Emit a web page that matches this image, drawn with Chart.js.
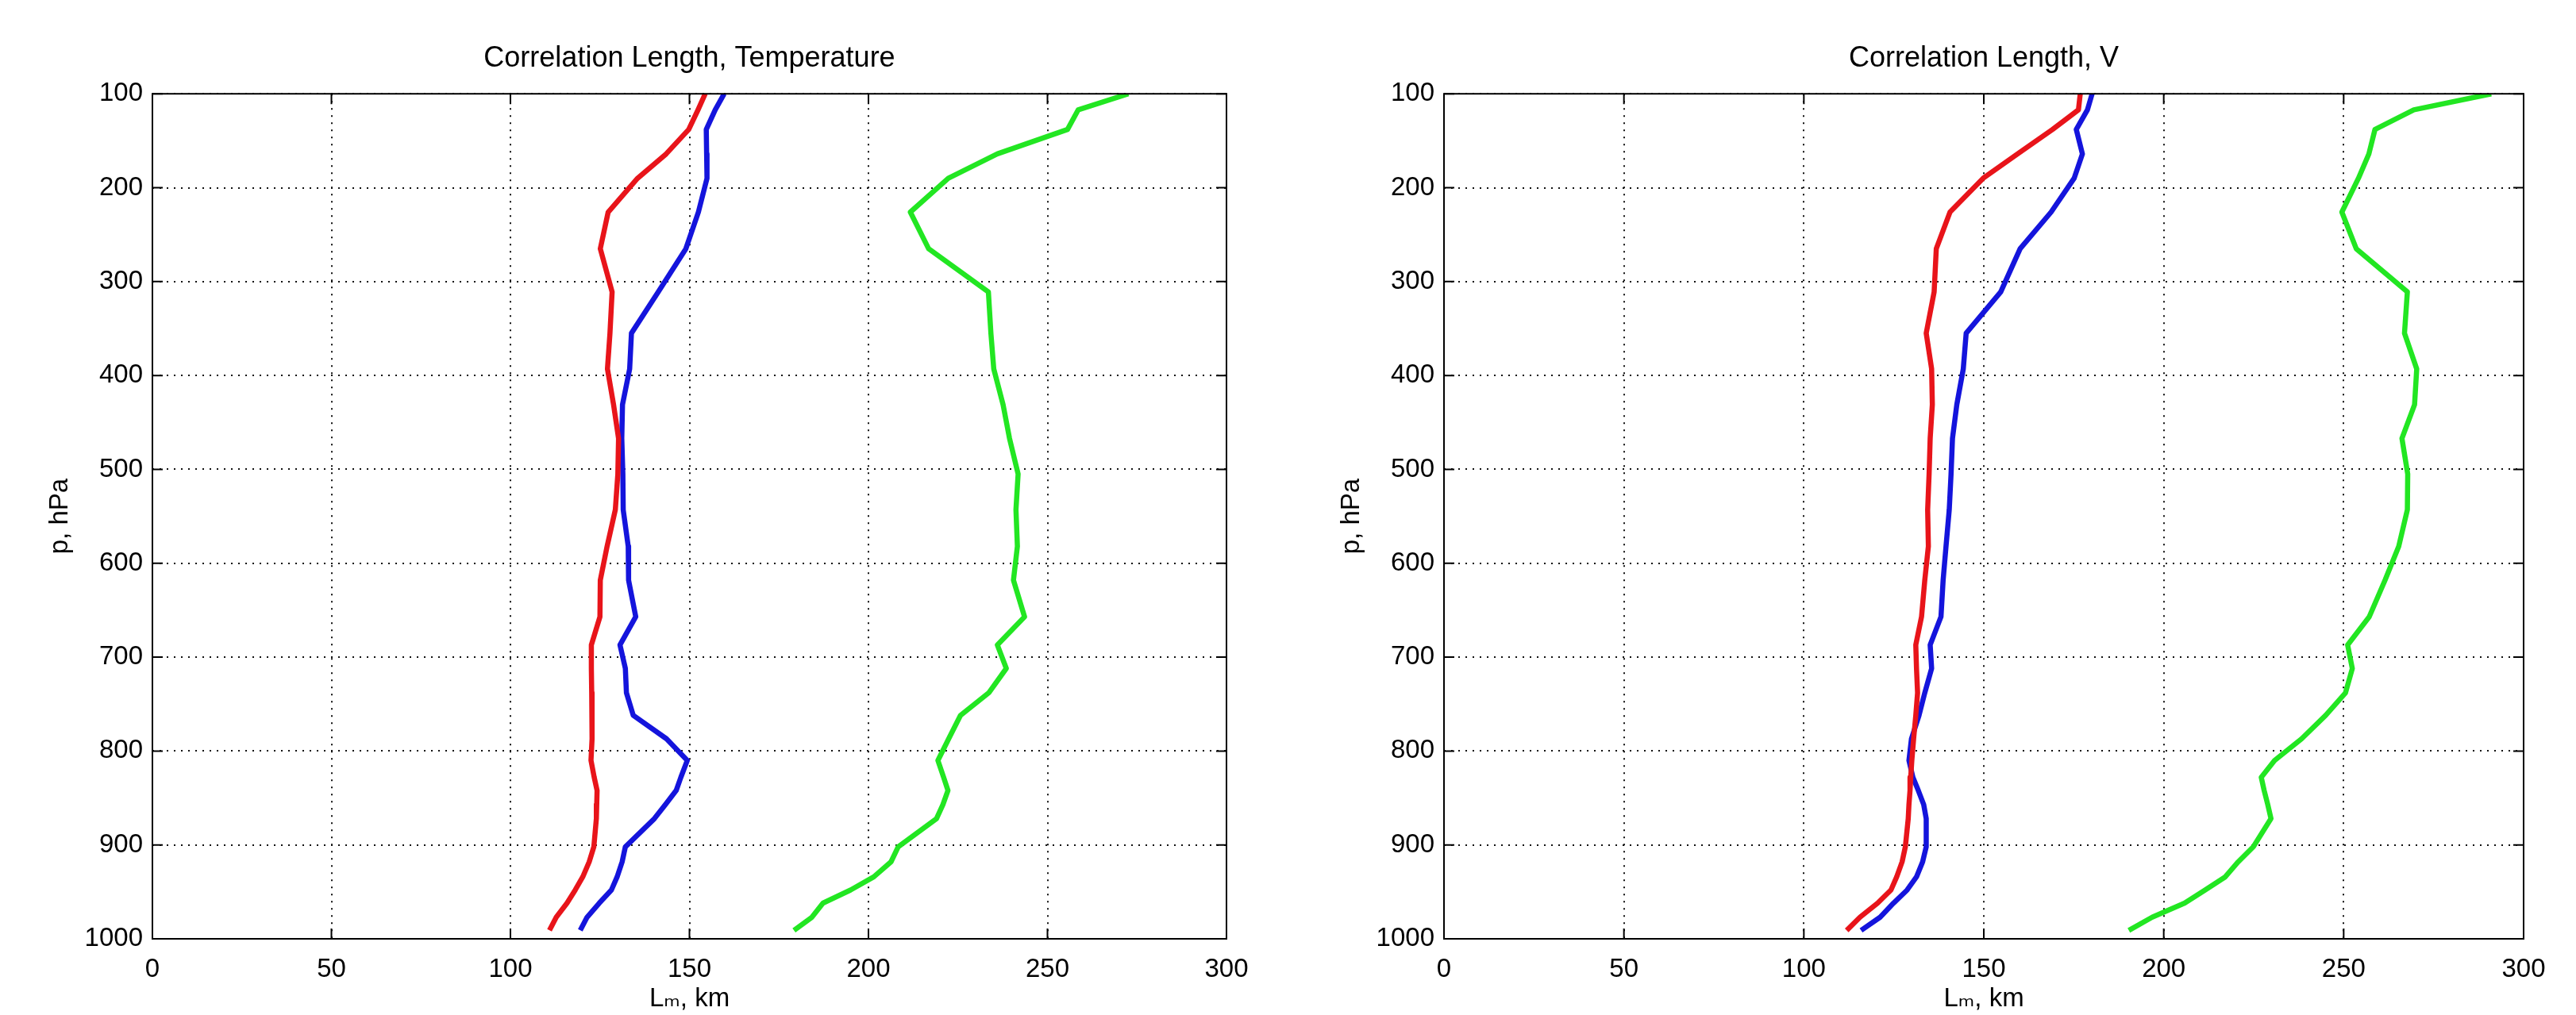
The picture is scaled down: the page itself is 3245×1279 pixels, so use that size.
<!DOCTYPE html>
<html>
<head>
<meta charset="utf-8">
<title>Correlation Length</title>
<script src="https://cdn.jsdelivr.net/npm/chart.js@4.4.0/dist/chart.umd.min.js"></script>
<style>
  html, body { margin: 0; padding: 0; background: #fff; }
  body { width: 3245px; height: 1279px; position: relative; overflow: hidden; }
  .panel { position: absolute; top: 0; }
</style>
</head>
<body>
<div class="panel" style="left:0px"><canvas id="chartT" width="1618" height="1279"></canvas></div>
<div class="panel" style="left:1627px"><canvas id="chartV" width="1618" height="1279"></canvas></div>
<script>
// pressure levels (hPa), shared by every profile
const levels = [100, 117, 138, 164, 190, 226, 265, 311, 355, 393, 431, 467, 505, 543, 582, 618, 657,
    687, 712, 738, 762, 787, 810, 828, 842, 857, 872, 902, 918, 934, 948, 962, 977, 991];

// Temperature panel, km
const tempRed = [154.4, 152.4, 149.8, 143.5, 135.5, 127.3, 125.1, 128.4, 127.8, 127.1, 128.8, 130.2, 130.0, 129.3, 127.0, 125.1, 125.0,
    122.6, 122.6, 122.7, 122.8, 122.8, 122.5, 123.4, 124.2, 124.1, 124.0, 123.3, 122.0, 120.2, 118.1, 115.8, 112.8, 110.9];
const tempBlue = [159.7, 157.2, 154.7, 154.8, 154.9, 152.5, 149.0, 141.3, 133.8, 133.3, 131.3, 131.1, 131.4, 131.5, 132.9, 133.0, 135.0,
    130.6, 132.1, 132.4, 134.3, 143.6, 149.4, 147.6, 146.3, 143.3, 140.2, 132.1, 131.2, 129.8, 128.2, 124.8, 121.4, 119.5];
const tempGreen = [272.6, 258.6, 255.6, 236.0, 222.3, 211.7, 216.8, 233.5, 234.2, 235.0, 237.6, 239.4, 241.8, 241.2, 241.6, 240.5, 243.6,
    236.0, 238.5, 233.6, 225.7, 222.4, 219.4, 221.0, 222.2, 220.8, 219.0, 208.3, 206.3, 201.5, 195.0, 187.3, 184.2, 179.2];

// V panel, km
const vRed = [176.8, 176.3, 169.1, 159.4, 149.8, 140.6, 136.8, 136.2, 134.0, 135.5, 135.7, 135.1, 134.8, 134.4, 134.6, 133.6, 132.7,
    131.1, 131.3, 131.6, 131.1, 130.5, 130.0, 129.7, 129.5, 129.2, 129.0, 128.2, 127.3, 125.8, 124.2, 120.5, 115.6, 111.9];
const vBlue = [180.1, 178.8, 175.7, 177.4, 175.1, 168.7, 160.1, 154.7, 145.1, 144.3, 142.5, 141.3, 140.9, 140.4, 139.5, 138.7, 138.1,
    135.1, 135.5, 133.6, 132.0, 129.9, 129.2, 130.3, 131.8, 133.3, 134.0, 134.0, 133.0, 131.3, 128.7, 124.9, 121.2, 115.9];
const vGreen = [291.0, 269.5, 258.7, 257.0, 254.1, 249.5, 253.5, 267.7, 266.9, 270.3, 269.7, 266.2, 267.8, 267.7, 265.3, 261.5, 257.1,
    251.1, 252.4, 250.5, 245.0, 238.3, 230.8, 227.1, 227.9, 228.9, 229.8, 224.9, 220.7, 217.1, 211.5, 205.8, 196.8, 190.3];

const xTicks = [0, 50, 100, 150, 200, 250, 300];
const pTicks = [100, 200, 300, 400, 500, 600, 700, 800, 900, 1000];

const fam = "'Liberation Sans', Arial, 'DejaVu Sans', sans-serif";
const txt = { family: fam, size: 33, weight: "normal" };
const titleTxt = { family: fam, size: 36, weight: "normal" };

// matlab style box with inward ticks on all four sides
const boxPlugin = {
    id: "box",
    afterDatasetsDraw(chart) {
        const ctx = chart.ctx;
        const a = chart.chartArea;
        const xs = chart.scales.x;
        const ys = chart.scales.y;
        ctx.save();
        ctx.strokeStyle = "#000";
        ctx.lineWidth = 2;
        ctx.strokeRect(a.left, a.top, a.right - a.left, a.bottom - a.top);
        ctx.beginPath();
        for (const v of xTicks) {
            const px = xs.getPixelForValue(v);
            ctx.moveTo(px, a.bottom); ctx.lineTo(px, a.bottom - 13);
            ctx.moveTo(px, a.top); ctx.lineTo(px, a.top + 13);
        }
        for (const v of pTicks) {
            const py = ys.getPixelForValue(v);
            ctx.moveTo(a.left, py); ctx.lineTo(a.left + 13, py);
            ctx.moveTo(a.right, py); ctx.lineTo(a.right - 13, py);
        }
        ctx.stroke();
        ctx.restore();
    },
};

function series(vals, color) {
    return {
        data: levels.map((p, i) => ({ x: vals[i], y: p })),
        showLine: true,
        borderColor: color,
        backgroundColor: color,
        borderWidth: 6.5,
        pointRadius: 0,
        tension: 0,
        borderJoinStyle: "round",
    };
}

function makeChart(id, titleText, red, blue, green, rightPad) {
    return new Chart(document.getElementById(id), {
        type: "scatter",
        data: {
            datasets: [series(red, "#e8141a"), series(blue, "#1414dc"), series(green, "#22e622")],
        },
        options: {
            responsive: false,
            animation: false,
            layout: { padding: { left: 0, right: rightPad, top: 0, bottom: 0 } },
            plugins: {
                legend: { display: false },
                tooltip: { enabled: false },
                title: {
                    display: true,
                    text: titleText,
                    fullSize: false,
                    color: "#000",
                    font: titleTxt,
                    padding: { top: 52, bottom: 23 },
                },
            },
            scales: {
                x: {
                    type: "linear",
                    min: 0,
                    max: 300,
                    afterBuildTicks: (s) => { s.ticks = xTicks.map((v) => ({ value: v })); },
                    afterFit: (s) => { s.height = 96; },
                    ticks: { color: "#000", font: txt, padding: 19, maxRotation: 0, autoSkip: false, callback: (v) => String(v) },
                    grid: { color: "#111", lineWidth: 2, drawTicks: false, borderDash: [2, 7] },
                    border: { display: false, dash: [2, 7] },
                    title: { display: true, text: "Lₘ, km", color: "#000", font: txt, padding: { top: 0, bottom: 0 } },
                },
                y: {
                    type: "linear",
                    reverse: true,
                    min: 100,
                    max: 1000,
                    afterBuildTicks: (s) => { s.ticks = pTicks.map((v) => ({ value: v })); },
                    afterFit: (s) => { s.width = 192; },
                    ticks: { color: "#000", font: txt, padding: 12, autoSkip: false, callback: (v) => String(v) },
                    grid: { color: "#111", lineWidth: 2, drawTicks: false, borderDash: [2, 7] },
                    border: { display: false, dash: [2, 7] },
                    title: { display: true, text: "p, hPa", color: "#000", font: txt, padding: { top: 56, bottom: 0 } },
                },
            },
        },
        plugins: [boxPlugin],
    });
}

makeChart("chartT", "Correlation Length, Temperature", tempRed, tempBlue, tempGreen, 73);
makeChart("chartV", "Correlation Length, V", vRed, vBlue, vGreen, 66);
</script>
</body>
</html>
